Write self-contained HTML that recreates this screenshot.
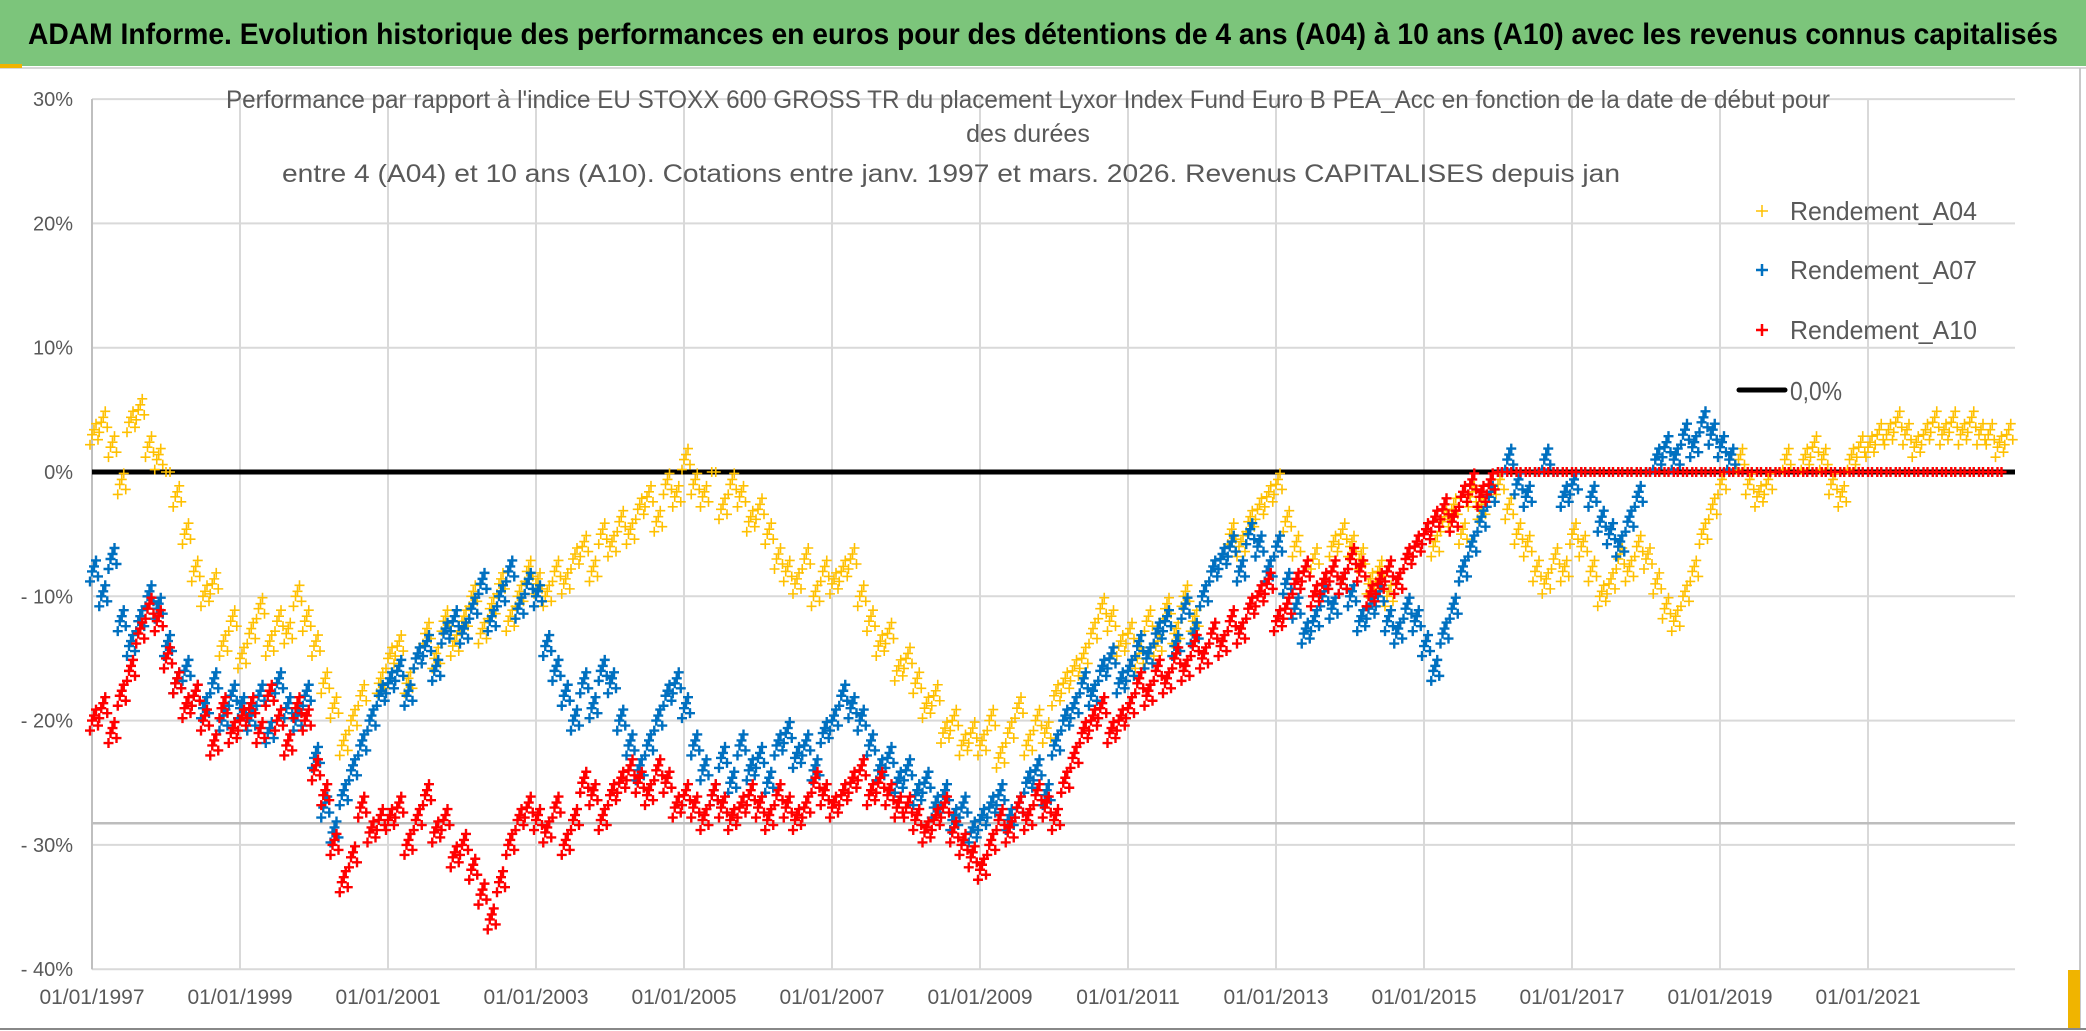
<!DOCTYPE html>
<html><head><meta charset="utf-8"><style>
html,body{margin:0;padding:0;background:#fff;}
svg{display:block;font-family:"Liberation Sans",sans-serif;}
</style></head><body>
<svg id="chart" width="2086" height="1031" viewBox="0 0 2086 1031">
  <rect x="0" y="0" width="2086" height="1031" fill="#fff"/>
  <rect x="0" y="0" width="2086" height="66" fill="#7cc57b"/>
  <line x1="0" y1="68" x2="2086" y2="68" stroke="#d8d8d8" stroke-width="2"/>
  <rect x="0" y="64" width="22" height="4" fill="#f0b400"/>
  <text x="1043" y="44" text-anchor="middle" font-size="30" font-weight="bold" fill="#000" textLength="2030" lengthAdjust="spacingAndGlyphs">ADAM Informe. Evolution historique des performances en euros pour des détentions de 4 ans (A04) à 10 ans (A10) avec les revenus connus capitalisés</text>
  <line x1="2080" y1="68" x2="2080" y2="1028" stroke="#c8c8c8" stroke-width="2"/>
  <line x1="0" y1="1029" x2="2086" y2="1029" stroke="#888" stroke-width="2"/>
  <rect x="2068" y="970" width="12" height="58" fill="#f0b400"/>
  <g id="grid"></g>
  <g id="axes"></g>
  <g id="series"></g>
  <g>
    <text x="1028" y="108" text-anchor="middle" font-size="25" fill="#595959" textLength="1604" lengthAdjust="spacingAndGlyphs">Performance par rapport à l'indice EU STOXX 600 GROSS TR  du placement Lyxor Index Fund Euro B PEA_Acc en fonction de la date de début pour</text>
    <text x="1028" y="142" text-anchor="middle" font-size="25" fill="#595959">des durées</text>
    <text x="951" y="182" text-anchor="middle" font-size="25" fill="#595959" textLength="1338" lengthAdjust="spacingAndGlyphs">entre 4 (A04) et 10 ans (A10). Cotations entre janv. 1997 et mars. 2026. Revenus CAPITALISES depuis jan</text>
  </g>
  <g>
    <g>
      <path d="M1756,211h12M1762,205v12" stroke="#ffc000" stroke-width="1.5"/>
      <text x="1790" y="220" font-size="26" fill="#595959" textLength="187" lengthAdjust="spacingAndGlyphs">Rendement_A04</text>
    </g>
    <g>
      <path d="M1756,270h12M1762,264v12" stroke="#0070c0" stroke-width="2.5"/>
      <text x="1790" y="279" font-size="26" fill="#595959" textLength="187" lengthAdjust="spacingAndGlyphs">Rendement_A07</text>
    </g>
    <g>
      <path d="M1756,330h12M1762,324v12" stroke="#ff0000" stroke-width="2.5"/>
      <text x="1790" y="339" font-size="26" fill="#595959" textLength="187" lengthAdjust="spacingAndGlyphs">Rendement_A10</text>
    </g>
    <g>
      <line x1="1739" y1="390" x2="1785" y2="390" stroke="#000" stroke-width="5" stroke-linecap="round"/>
      <text x="1790" y="400" font-size="26" fill="#595959" textLength="52" lengthAdjust="spacingAndGlyphs">0,0%</text>
    </g>
  </g>
</svg>
<script>
// ---- data (8 samples per year starting 01/01/1997) ----
const startYear = 1997;
const samplesPerYear = 8;
const yTicks = [30, 20, 10, 0, -10, -20, -30, -40];
const yTickLabels = ["30%", "20%", "10%", "0%", "- 10%", "- 20%", "- 30%", "- 40%"];
const xTickYears = [1997, 1999, 2001, 2003, 2005, 2007, 2009, 2011, 2013, 2015, 2017, 2019, 2021];
const xTickLabels = ["01/01/1997","01/01/1999","01/01/2001","01/01/2003","01/01/2005","01/01/2007","01/01/2009","01/01/2011","01/01/2013","01/01/2015","01/01/2017","01/01/2019","01/01/2021"];
const refLineValue = -28.26;
const zeroLineValue = 0;
const rendementA04 = [
 3,4,2,-1,4,5,2,1,
 0,-2,-5,-8,-10,-9,-14,-12,
 -15,-13,-11,-14,-12,-13,-10,-12,
 -14,-17,-19,-22,-20,-18,-20,-17,
 -15,-14,-17,-15,-13,-15,-12,-14,
 -12,-10,-13,-11,-9,-12,-10,-8,
 -9,-10,-8,-9,-7,-6,-8,-5,
 -6,-4,-5,-3,-2,-4,-1,-2,
 1,-1,-2,0,-3,-1,-2,-4,
 -3,-5,-7,-8,-9,-7,-10,-8,
 -9,-8,-7,-10,-12,-14,-13,-16,
 -15,-17,-19,-18,-21,-20,-22,-21,
 -22,-20,-23,-21,-19,-22,-20,-21,
 -18,-17,-16,-15,-13,-11,-12,-14,
 -13,-15,-12,-14,-11,-13,-10,-12,
 -10,-8,-7,-5,-6,-4,-3,-2,
 -1,-4,-6,-8,-7,-9,-6,-5,
 -6,-7,-9,-8,-10,-9,-7,-6,
 -5,-6,-4,-3,-5,-2,-3,-2,
 -1,-3,-5,-6,-8,-9,-7,-8,
 -5,-6,-8,-10,-9,-7,-8,-6,
 -7,-9,-11,-12,-10,-8,-5,-3,
 -1,0,1,-1,-2,-1,0,1,
 0,1,2,1,-1,-2,1,2,
 2,3,3,4,3,2,3,4,
 3,4,3,4,3,3,2,3
];
const rendementA07 = [
 -8,-10,-7,-12,-14,-12,-10,-11,
 -14,-17,-16,-18,-19,-17,-20,-18,
 -19,-20,-18,-21,-17,-19,-20,-18,
 -23,-27,-29,-26,-24,-22,-20,-18,
 -17,-16,-18,-15,-14,-16,-13,-12,
 -13,-11,-9,-12,-10,-8,-11,-9,
 -10,-14,-16,-18,-20,-17,-19,-16,
 -17,-20,-22,-24,-22,-20,-18,-17,
 -19,-22,-24,-26,-23,-25,-22,-24,
 -23,-25,-22,-21,-23,-22,-24,-21,
 -20,-18,-19,-20,-22,-24,-23,-25,
 -24,-26,-25,-27,-26,-28,-27,-29,
 -28,-27,-26,-28,-27,-25,-24,-26,
 -22,-20,-19,-17,-18,-16,-15,-17,
 -16,-14,-15,-13,-12,-14,-11,-13,
 -10,-8,-7,-6,-8,-5,-6,-8,
 -6,-9,-11,-13,-12,-10,-11,-9,
 -10,-12,-11,-10,-12,-13,-11,-12,
 -14,-16,-13,-11,-8,-6,-4,-2,
 0,1,-1,-2,0,1,0,-2,
 -1,0,-2,-4,-5,-6,-4,-2,
 0,1,2,1,3,2,4,3,
 2,1
];
const rendementA10 = [
 -20,-19,-21,-18,-16,-13,-11,-12,
 -15,-17,-19,-18,-20,-22,-19,-21,
 -20,-19,-21,-18,-20,-22,-19,-20,
 -24,-26,-30,-33,-31,-27,-29,-28,
 -28,-27,-30,-28,-26,-29,-28,-31,
 -30,-32,-34,-36,-33,-30,-28,-27,
 -28,-29,-27,-30,-28,-25,-26,-28,
 -26,-25,-24,-25,-26,-24,-25,-27,
 -26,-27,-28,-26,-27,-28,-27,-26,
 -27,-28,-26,-27,-28,-27,-25,-26,
 -27,-26,-25,-24,-26,-25,-26,-27,
 -27,-28,-29,-28,-27,-29,-30,-31,
 -32,-30,-28,-29,-27,-28,-26,-27,
 -28,-25,-23,-21,-20,-19,-21,-20,
 -19,-17,-18,-16,-17,-15,-16,-14,
 -15,-13,-14,-12,-13,-11,-10,-9,
 -12,-11,-9,-8,-10,-9,-8,-9,
 -7,-8,-10,-9,-8,-9,-7,-6,
 -5,-4,-3,-4,-2,-1,-2,-1,
 0,0,0,0,0,0,0,0,
 0,0,0,0,0,0,0,0,
 0,0,0,0,0,0,0,0,
 0,0,0,0,0,0,0,0,
 0,0,0,0,0,0,0,0,
 0,0,0,0,0,0,0,0,
 0,0,0,0,0,0,0
];

// ---- scales ----
const X0 = 92, PX_PER_YEAR = 74, X_END = 2015;
const Y_ZERO = 472, PX_PER_PCT = 12.43;
function xScale(year){ return X0 + (year - startYear) * PX_PER_YEAR; }
function yScale(v){ return Y_ZERO - v * PX_PER_PCT; }
const NS = "http://www.w3.org/2000/svg";
function mk(tag, attrs, parent){
  const e = document.createElementNS(NS, tag);
  for (const k in attrs) e.setAttribute(k, attrs[k]);
  parent.appendChild(e);
  return e;
}
const grid = document.getElementById('grid');
const axes = document.getElementById('axes');
const series = document.getElementById('series');

xTickYears.forEach((yr, i) => {
  const x = xScale(yr);
  const gl = mk('line', {x1:x, y1:yScale(30), x2:x, y2:yScale(-40), stroke:'#d9d9d9', 'stroke-width':2}, grid);
  
  
  const t = mk('text', {x:x, y:1004, 'text-anchor':'middle', 'font-size':21, fill:'#595959'}, axes);
  t.textContent = xTickLabels[i];
  
  
});
yTicks.forEach((v, i) => {
  const y = yScale(v);
  const gl = mk('line', {x1:X0, y1:y, x2:X_END, y2:y, stroke:'#d9d9d9', 'stroke-width':2}, grid);
  
  
  const t = mk('text', {x:73, y:y+7, 'text-anchor':'end', 'font-size':20, fill:'#595959'}, axes);
  t.textContent = yTickLabels[i];
  
  
});
const ax = mk('line', {x1:X0, y1:yScale(30), x2:X0, y2:yScale(-40), stroke:'#bfbfbf', 'stroke-width':2}, grid);


const ref = mk('line', {x1:X0, y1:yScale(refLineValue), x2:X_END, y2:yScale(refLineValue), stroke:'#bdbdbd', 'stroke-width':2.5}, grid);


const zl = mk('line', {x1:X0, y1:yScale(zeroLineValue), x2:X_END, y2:yScale(zeroLineValue), stroke:'#000', 'stroke-width':5}, grid);



// marker cluster pattern (pixels) drawn around each sampled value
const clusterDX = [0, 4, -2, 6, 2];
const clusterDY = [0, -11, 10, 5, -5];
function drawSeries(values, color, sw, name){
  const g = mk('g', {}, series);
  
  
  let d = '';
  values.forEach((v, i) => {
    const cx = xScale(startYear + i / samplesPerYear);
    const cy = yScale(v);
    const flat = v === 0 ? 1 : clusterDX.length;
    for (let k = 0; k < flat; k++) {
      const x = cx + clusterDX[k], y = cy + clusterDY[k];
      d += 'M' + (x-5) + ',' + y + 'h10M' + x + ',' + (y-5) + 'v10';
    }
    if (v === 0) d += 'M' + (cx-1) + ',' + cy + 'h10M' + (cx+4) + ',' + (cy-5) + 'v10';
  });
  const p = mk('path', {d:d, stroke:color, 'stroke-width':sw, fill:'none'}, g);
  
  
}
drawSeries(rendementA04, '#ffc000', 1.6, 'series-a04');
drawSeries(rendementA07, '#0070c0', 2.4, 'series-a07');
drawSeries(rendementA10, '#ff0000', 2.4, 'series-a10');
</script>
</body></html>
